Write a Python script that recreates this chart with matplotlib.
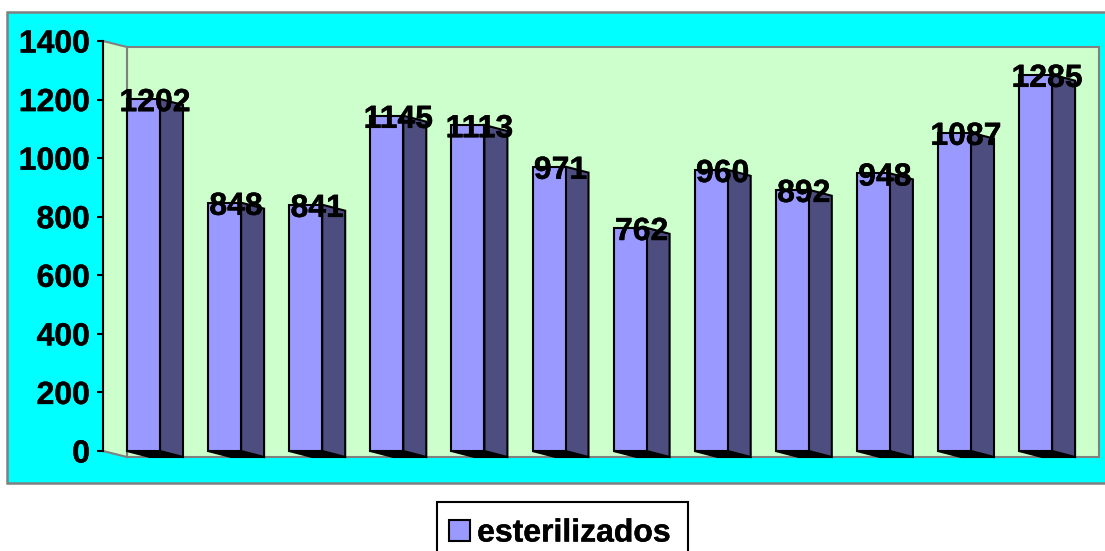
import matplotlib
matplotlib.use("Agg")
import matplotlib.pyplot as plt
import matplotlib.patheffects as pe
from matplotlib.patches import Rectangle, Patch

values = [1202, 848, 841, 1145, 1113, 971, 762, 960, 892, 948, 1087, 1285]
y_ticks = [0, 200, 400, 600, 800, 1000, 1200, 1400]
series_name = "esterilizados"

W, H = 1105, 551
plt.rcParams['font.family'] = ['Liberation Sans', 'DejaVu Sans']
plt.rcParams['font.weight'] = 'bold'
FS = 23
HEAVY = [pe.withStroke(linewidth=0.3, foreground='black')]

PX_X = 81.1            # pixels per category
PX_Y = 410 / 1400      # pixels per value unit
BAR_W = 33 / PX_X
DEPTH_X = 23 / PX_X
DEPTH_Y = 6 / PX_Y
LEFT_PX, RIGHT_PX, FIRST_PX = 103, 1099, 127
TOP_PX, BOTTOM_PX = 41, 457

FRONT, SIDE, FLOOR = '#9999FF', '#4D4D80', '#000000'
WALL, GREY, BACK = '#CCFFCC', '#808080', '#00FFFF'

fig = plt.figure(figsize=(W / 100, H / 100), dpi=100, facecolor='white')
fig.add_artist(Rectangle((7 / W, 1 - 483 / H), 1.05, 471 / H, transform=fig.transFigure,
                         facecolor=BACK, edgecolor=GREY, linewidth=1.8, zorder=0))

ax = fig.add_axes([LEFT_PX / W, 1 - BOTTOM_PX / H, (RIGHT_PX - LEFT_PX) / W, (BOTTOM_PX - TOP_PX) / H])
ax.patch.set_visible(False)
x0 = (LEFT_PX - FIRST_PX) / PX_X
x1 = (RIGHT_PX - FIRST_PX) / PX_X
ax.set_xlim(x0, x1)
ax.set_ylim(-DEPTH_Y, 1400)

top_back = 1400 - DEPTH_Y
# back wall and left wall
ax.fill([0, x1, x1, 0], [top_back, top_back, -DEPTH_Y, -DEPTH_Y],
        facecolor=WALL, edgecolor=GREY, linewidth=1.5, clip_on=False, zorder=1)
ax.fill([x0, 0, 0, x0], [1400, top_back, -DEPTH_Y, 0],
        facecolor=WALL, edgecolor=GREY, linewidth=1.5, clip_on=False, zorder=1)

xs = list(range(len(values)))
edge_lw = 1.5
for i, v in zip(xs, values):
    # floor shadow
    ax.fill([i, i + BAR_W, i + BAR_W + DEPTH_X, i + DEPTH_X], [0, 0, -DEPTH_Y, -DEPTH_Y],
            facecolor=FLOOR, edgecolor='black', linewidth=edge_lw, clip_on=False, zorder=2)
    # side face
    ax.fill([i + BAR_W, i + BAR_W + DEPTH_X, i + BAR_W + DEPTH_X, i + BAR_W],
            [v, v - DEPTH_Y, -DEPTH_Y, 0],
            facecolor=SIDE, edgecolor='black', linewidth=edge_lw, clip_on=False, zorder=3)
ax.bar(xs, values, width=BAR_W, align='edge', color=FRONT, edgecolor='black',
       linewidth=edge_lw, zorder=4, clip_on=False)

for i, v in zip(xs, values):
    ax.annotate(str(v), (i + (BAR_W + DEPTH_X) / 2, v), xytext=(0, -3), textcoords='offset points',
                ha='center', va='center', fontsize=FS, fontweight='bold', color='black',
                zorder=6, annotation_clip=False, path_effects=HEAVY)

for s in ['top', 'right', 'bottom']:
    ax.spines[s].set_visible(False)
ax.spines['left'].set_bounds(0, 1400)
ax.spines['left'].set_linewidth(1.5)
ax.spines['left'].set_zorder(5)
ax.set_xticks([])
ax.set_yticks(y_ticks)
ax.set_yticklabels([str(t) for t in y_ticks], fontsize=FS, fontweight='bold', path_effects=HEAVY)
ax.tick_params(axis='y', length=4.3, width=1.5, pad=5, color='black')

fig.add_artist(Rectangle((437 / W, 1 - 560 / H), 251 / W, 58 / H, transform=fig.transFigure,
                         facecolor='white', edgecolor='black', linewidth=1.5, zorder=1))
leg = fig.legend(handles=[Patch(facecolor=FRONT, edgecolor='black', linewidth=1.5, label=series_name)],
                 loc='upper left', bbox_to_anchor=(449 / W, 1 - 518.5 / H),
                 prop={'size': FS, 'weight': 'bold'}, frameon=False,
                 handlelength=0.66, handleheight=0.66,
                 handletextpad=0.22, borderpad=0, borderaxespad=0)
leg.set_zorder(2)
leg.get_texts()[0].set_path_effects(HEAVY)

fig.savefig('out.png', dpi=100, facecolor='white')
